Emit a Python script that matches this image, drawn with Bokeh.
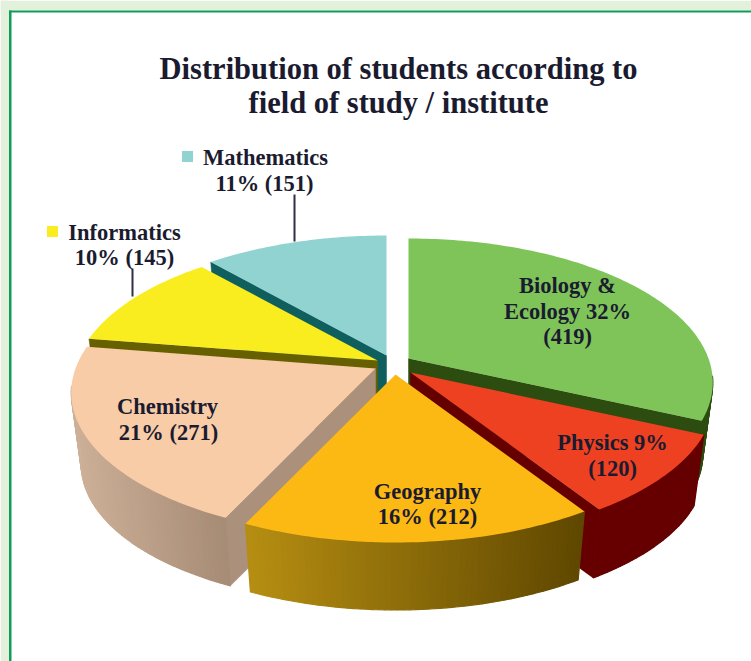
import math
from bokeh.plotting import figure
from bokeh.models import Range1d
from bokeh.core.properties import value
from bokeh.embed import file_html
from bokeh.resources import INLINE

# ---- data ----
names = ["Biology & Ecology", "Physics", "Geography", "Chemistry", "Informatics", "Mathematics"]
students = [419, 120, 212, 271, 145, 151]
percents = [32, 9, 16, 21, 10, 11]
title_lines = ["Distribution of students according to", "field of study / institute"]

# ---- styles ----
top_colors = ["#7fc459", "#ee4122", "#fdb913", "#f9cca8", "#f9ed20", "#90d3d1"]
edge_colors = ["#2d4d10", "#660000", "#5f4700", "#ab917b", "#666000", "#0f5f5f"]
rim_left = ["#2d4d10", "#660000", "#b68e12", "#cdb098", "#666000", "#0f5f5f"]
rim_right = ["#2d4d10", "#660000", "#5f4700", "#a68b75", "#666000", "#0f5f5f"]
apex_x = [408, 410, 395, 375, 377, 386]
apex_y = [358, 372, 374, 368, 360, 355]
RADIUS, FORESHORTEN, PERSPECTIVE, DEPTH, BOTTOM_SCALE = 300, 140, 1 / 6, 73, 0.967
TEXT = "#1b1b30"
FONT = value("Liberation Serif")

p = figure(width=751, height=661, output_backend="svg", toolbar_location=None,
           x_range=Range1d(0, 751), y_range=Range1d(661, 0),
           x_axis_type=None, y_axis_type=None, min_border=0,
           margin=0)
p.outline_line_color = None
p.grid.visible = False
p.background_fill_color = "white"
p.border_fill_color = "white"

# page frame
p.quad(left=[0, 0], right=[8.5, 751], top=[0, 0], bottom=[661, 10], fill_color="#e3f0dc", line_color=None)
p.quad(left=[8.5, 8.5], right=[11, 751], top=[10, 10], bottom=[661, 12], fill_color="#0f9d58", line_color=None)


def top_pt(i, deg):
    t = math.radians(deg)
    u, v = math.sin(t), math.cos(t)
    den = 1 + PERSPECTIVE * v
    return apex_x[i] + RADIUS * u / den, apex_y[i] - FORESHORTEN * v / den


def low_pt(i, deg):
    x, y = top_pt(i, deg)
    return (apex_x[i] + (x - apex_x[i]) * BOTTOM_SCALE,
            apex_y[i] + (y - apex_y[i]) * BOTTOM_SCALE + DEPTH)


def mix(a, b, t):
    ca = [int(a[k:k + 2], 16) for k in (1, 3, 5)]
    cb = [int(b[k:k + 2], 16) for k in (1, 3, 5)]
    return "#%02x%02x%02x" % tuple(round(x + (y - x) * t) for x, y in zip(ca, cb))


total = sum(students)
bounds = [0.0]
for s in students:
    bounds.append(bounds[-1] + 360 * s / total)

# painter's order: back to front
for i in [5, 4, 3, 0, 1, 2]:
    a0, a1 = bounds[i], bounds[i + 1]
    # radial walls that face the viewer
    for ang, normal in ((a0, a0 - 90), (a1, a1 + 90)):
        if math.cos(math.radians(normal)) < -1e-6:
            x0, y0 = top_pt(i, ang)
            x1, y1 = low_pt(i, ang)
            p.patch([apex_x[i], x0, x1, apex_x[i]], [apex_y[i], y0, y1, apex_y[i] + DEPTH],
                    fill_color=edge_colors[i], line_color=edge_colors[i], line_width=0.5)
    # outer wall, front-facing part only
    w0, w1 = max(a0, 97), min(a1, 263)
    if w1 > w0:
        n = max(2, int(w1 - w0))
        angs = [w0 + (w1 - w0) * k / n for k in range(n + 1)]
        xs_all = [top_pt(i, a)[0] for a in angs]
        xl, xr = min(xs_all), max(xs_all)
        for k in range(n):
            xa, ya = top_pt(i, angs[k])
            xb, yb = top_pt(i, angs[k + 1])
            xc, yc = low_pt(i, angs[k + 1])
            xd, yd = low_pt(i, angs[k])
            t = (0.5 * (xa + xb) - xl) / max(xr - xl, 1)
            c = mix(rim_left[i], rim_right[i], t)
            p.patch([xa, xb, xc, xd], [ya, yb, yc, yd], fill_color=c, line_color=c, line_width=1.2)
    # top surface
    n = max(2, int(a1 - a0))
    angs = [a0 + (a1 - a0) * k / n for k in range(n + 1)]
    pts = [top_pt(i, a) for a in angs]
    p.patch([apex_x[i]] + [q[0] for q in pts], [apex_y[i]] + [q[1] for q in pts],
            fill_color=top_colors[i], line_color=None)

# leaders and legend keys
p.segment(x0=[294, 132], y0=[194, 268], x1=[294, 132], y1=[241, 296], line_color="#2f2f46", line_width=2)
p.scatter(x=[187, 52], y=[156, 231], size=11, marker="square", line_color=None,
          fill_color=[top_colors[5], top_colors[4]])

# texts
p.text(x=[398, 398], y=[68, 102], text=title_lines, text_font=FONT, text_font_style="bold",
       text_font_size="30.5px", text_color=TEXT, text_align="center", text_baseline="middle")

lab = [
    ("Biology &", 567, 285),
    ("Ecology %d%%" % percents[0], 567, 311),
    ("(%d)" % students[0], 567, 336),
    ("%s %d%%" % (names[1], percents[1]), 612, 442),
    ("(%d)" % students[1], 612, 468),
    (names[2], 427, 491),
    ("%d%% (%d)" % (percents[2], students[2]), 427, 516),
    (names[3], 167, 406),
    ("%d%% (%d)" % (percents[3], students[3]), 168, 432),
    (names[4], 124, 232),
    ("%d%% (%d)" % (percents[4], students[4]), 124, 257),
    (names[5], 265, 157),
    ("%d%% (%d)" % (percents[5], students[5]), 264, 183),
]
p.text(x=[q[1] for q in lab], y=[q[2] for q in lab], text=[q[0] for q in lab],
       text_font=FONT, text_font_style="bold", text_font_size="22.5px",
       text_color=TEXT, text_align="center", text_baseline="middle")

open("out.html", "w").write(file_html(p, INLINE))
